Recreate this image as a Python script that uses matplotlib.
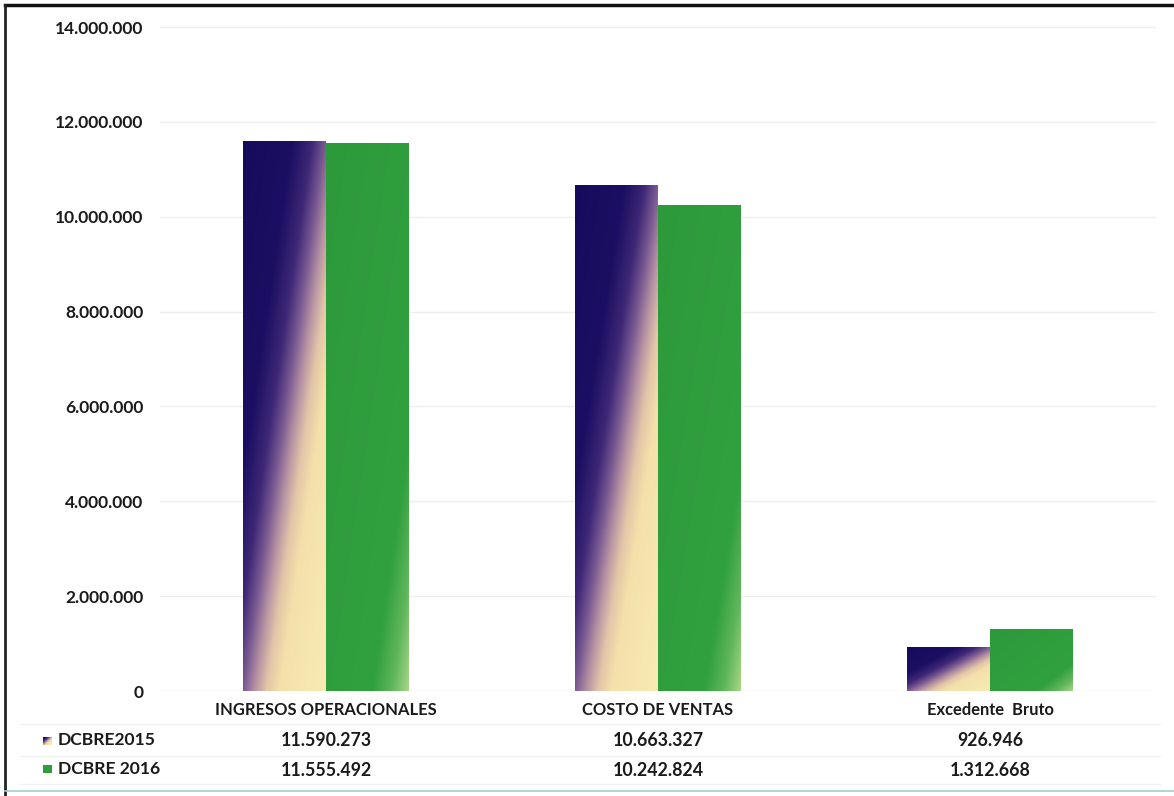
import numpy as np
import matplotlib
matplotlib.use('Agg')
import matplotlib.pyplot as plt
from matplotlib.colors import LinearSegmentedColormap
from matplotlib.patches import Rectangle
from matplotlib.lines import Line2D

# ---- data ----
categories = ['INGRESOS OPERACIONALES', 'COSTO DE VENTAS', 'Excedente  Bruto']
series_names = ['DCBRE2015', 'DCBRE 2016']
values_2015 = [11590273, 10663327, 926946]
values_2016 = [11555492, 10242824, 1312668]
y_ticks = [0, 2000000, 4000000, 6000000, 8000000, 10000000, 12000000, 14000000]


def fmt(v):
    return f"{v:,}".replace(',', '.')


plt.rcParams['font.family'] = ['Lato', 'DejaVu Sans']
TXT = '#1a1a1a'

W, H = 1174, 796
fig = plt.figure(figsize=(W / 100, H / 100), dpi=100)
fig.patch.set_facecolor('white')

AX_L, AX_R, AX_T, AX_B = 160, 1156, 27, 691
ax = fig.add_axes([AX_L / W, 1 - AX_B / H, (AX_R - AX_L) / W, (AX_B - AX_T) / H])
ax.set_xlim(-0.5, len(categories) - 0.5)
ax.set_ylim(0, y_ticks[-1])
for s in ax.spines.values():
    s.set_visible(False)
ax.set_xticks([])
ax.set_yticks(y_ticks)
ax.set_yticklabels([fmt(v) for v in y_ticks], fontsize=12.5, fontweight='bold', color=TXT)
ax.tick_params(axis='y', length=0, pad=12)
ax.grid(axis='y', color='#efefef', linewidth=1)
ax.set_axisbelow(True)

cmap_2015 = LinearSegmentedColormap.from_list('g15', [
    (0.0, '#150b5b'), (0.3, '#1c0f63'), (0.42, '#3f2876'), (0.5, '#7a5a92'),
    (0.57, '#b792a3'), (0.64, '#e3c5a8'), (0.72, '#f4e0aa'), (1.0, '#f8ebb3')])
cmap_2016 = LinearSegmentedColormap.from_list('g16', [
    (0.0, '#2c9a3a'), (0.78, '#31a03f'), (0.9, '#5fb65a'), (1.0, '#a6d586')])

nx, ny = 80, 240
X, Y = np.meshgrid(np.linspace(0, 1, nx), np.linspace(0, 1, ny))
T = np.clip(0.5 * X + 0.5 * Y, 0, 1)

x = np.arange(len(categories))
w = 0.25
bars15 = ax.bar(x - w / 2, values_2015, w, color='none', edgecolor='none')
bars16 = ax.bar(x + w / 2, values_2016, w, color='none', edgecolor='none')

for bars, cmap in ((bars15, cmap_2015), (bars16, cmap_2016)):
    for r in bars:
        x0, y0 = r.get_x(), r.get_y()
        x1, y1 = x0 + r.get_width(), y0 + r.get_height()
        im = ax.imshow(T, cmap=cmap, vmin=0, vmax=1, origin='upper',
                       extent=(x0, x1, y0, y1), aspect='auto',
                       interpolation='bilinear', zorder=2)
        im.set_clip_path(r)

# ---- data table below ----
def cx(i):
    return (AX_L + (AX_R - AX_L) * (i + 0.5) / len(categories)) / W

for i, c in enumerate(categories):
    fig.text(cx(i), 1 - 710 / H, c, ha='center', va='center',
             fontsize=11.9, fontweight='bold', color=TXT)
    fig.text(cx(i), 1 - 741 / H, fmt(values_2015[i]), ha='center', va='center',
             fontsize=12.8, fontweight='bold', color=TXT)
    fig.text(cx(i), 1 - 770 / H, fmt(values_2016[i]), ha='center', va='center',
             fontsize=12.8, fontweight='bold', color=TXT)

fig.text(58 / W, 1 - 740 / H, series_names[0], ha='left', va='center',
         fontsize=12.6, fontweight='bold', color=TXT)
fig.text(58 / W, 1 - 769 / H, series_names[1], ha='left', va='center',
         fontsize=12.6, fontweight='bold', color=TXT)

# legend keys
kax = fig.add_axes([43 / W, 1 - 745 / H, 9 / W, 8 / H])
kax.imshow(np.clip(0.4 * X + 0.4 * Y + 0.2, 0, 1), cmap=cmap_2015, vmin=0, vmax=1,
           origin='upper', aspect='auto')
kax.axis('off')
fig.patches.append(Rectangle((43 / W, 1 - 773 / H), 9 / W, 8 / H,
                             transform=fig.transFigure, facecolor='#2e9e3c', edgecolor='none'))

# faint table grid lines
for yy in (724, 756, 784):
    fig.add_artist(Line2D([20 / W, 1160 / W], [1 - yy / H] * 2, color='#f2f2f2', lw=1))

# frame lines (scanned border)
fig.add_artist(Line2D([5 / W, 1], [1 - 5 / H] * 2, color='#111111', lw=2.5))
fig.add_artist(Line2D([5 / W, 5 / W], [1 - 5 / H, 0], color='#222222', lw=2))
fig.add_artist(Line2D([5 / W, 1], [1 - 791 / H] * 2, color='#a9cccc', lw=1.2))

fig.savefig('out.png', dpi=100, facecolor='white')
